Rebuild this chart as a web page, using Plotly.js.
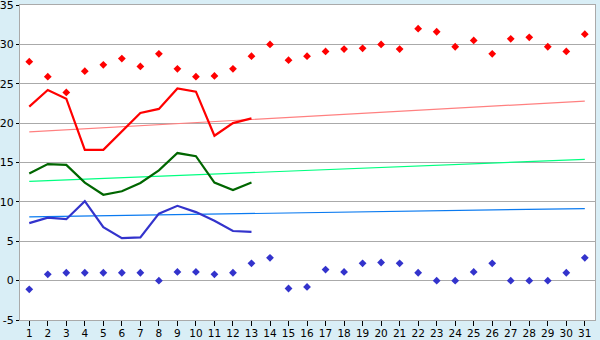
<!DOCTYPE html>
<html><head><meta charset="utf-8">
<script src="https://cdn.plot.ly/plotly-3.0.1.min.js"></script>
<style>body{margin:0;padding:0;background:#d9eef6}</style>
</head><body>
<div id="chart" style="width:600px;height:340px"></div>
<script>
const days = Array.from({length:31},(_,i)=>i+1);
const recordMax = [27.8,25.9,23.9,26.6,27.4,28.2,27.2,28.8,26.9,25.9,26.0,26.9,28.5,30.0,28.0,28.5,29.1,29.4,29.5,30.0,29.4,32.0,31.6,29.7,30.5,28.8,30.7,30.9,29.7,29.1,31.3];
const recordMin = [-1.1,0.8,1.0,1.0,1.0,1.0,1.0,0.0,1.1,1.1,0.8,1.0,2.2,2.9,-1.0,-0.8,1.4,1.1,2.2,2.3,2.2,1.0,0.0,0.0,1.1,2.2,0.0,0.0,0.0,1.0,2.9];
const obsDays = [1,2,3,4,5,6,7,8,9,10,11,12,13];
const dailyMax = [22.1,24.2,23.1,16.6,16.6,19.0,21.3,21.8,24.4,24.0,18.4,20.0,20.6];
const dailyMean = [13.6,14.8,14.7,12.45,10.9,11.35,12.4,14.0,16.2,15.8,12.45,11.5,12.45];
const dailyMin = [7.3,8.0,7.8,10.1,6.8,5.4,5.5,8.5,9.5,8.7,7.6,6.3,6.2];
const normDays = [1,31];
const normMax = [18.9,22.8];
const normMean = [12.6,15.4];
const normMin = [8.1,9.15];
const yTicks = [-5,0,5,10,15,20,25,30,35];

const traces = [
  {x:normDays,y:normMax,mode:'lines',line:{color:'#ff8080',width:1.2},hoverinfo:'skip'},
  {x:normDays,y:normMean,mode:'lines',line:{color:'#00ff80',width:1.2},hoverinfo:'skip'},
  {x:normDays,y:normMin,mode:'lines',line:{color:'#0a7af0',width:1.2},hoverinfo:'skip'},
  {x:obsDays,y:dailyMax,mode:'lines',line:{color:'#ff0000',width:2.2}},
  {x:obsDays,y:dailyMean,mode:'lines',line:{color:'#006600',width:2.2}},
  {x:obsDays,y:dailyMin,mode:'lines',line:{color:'#3333cc',width:2.2}},
  {x:days,y:recordMax,mode:'markers',marker:{symbol:'diamond',size:6,color:'#ff0000'}},
  {x:days,y:recordMin,mode:'markers',marker:{symbol:'diamond',size:6,color:'#3333cc'}}
];
const layout = {
  width:600,height:340,
  margin:{l:20,r:5,t:5,b:20},
  paper_bgcolor:'#d9eef6',plot_bgcolor:'#ffffff',
  showlegend:false,
  font:{family:'DejaVu Sans',size:11,color:'#000'},
  xaxis:{range:[0.5,31.55],tickmode:'array',tickvals:days,ticktext:days.map(String),
    ticks:'outside',ticklen:5,tickcolor:'#000',showgrid:false,zeroline:false,
    showline:true,linecolor:'#aaaaaa',mirror:true,tickfont:{size:10.5},
    ticklabeloverflow:'allow',ticklabelstandoff:-2},
  yaxis:{range:[-5,35],tickmode:'array',tickvals:yTicks,ticktext:yTicks.map(String),
    ticks:'outside',ticklen:3,tickcolor:'#000',
    showgrid:true,gridcolor:'#aaaaaa',gridwidth:1,zeroline:false,
    showline:true,linecolor:'#aaaaaa',mirror:true,tickfont:{size:11},
    ticklabeloverflow:'allow'}
};
Plotly.newPlot('chart',traces,layout,{staticPlot:true});
</script>
</body></html>
